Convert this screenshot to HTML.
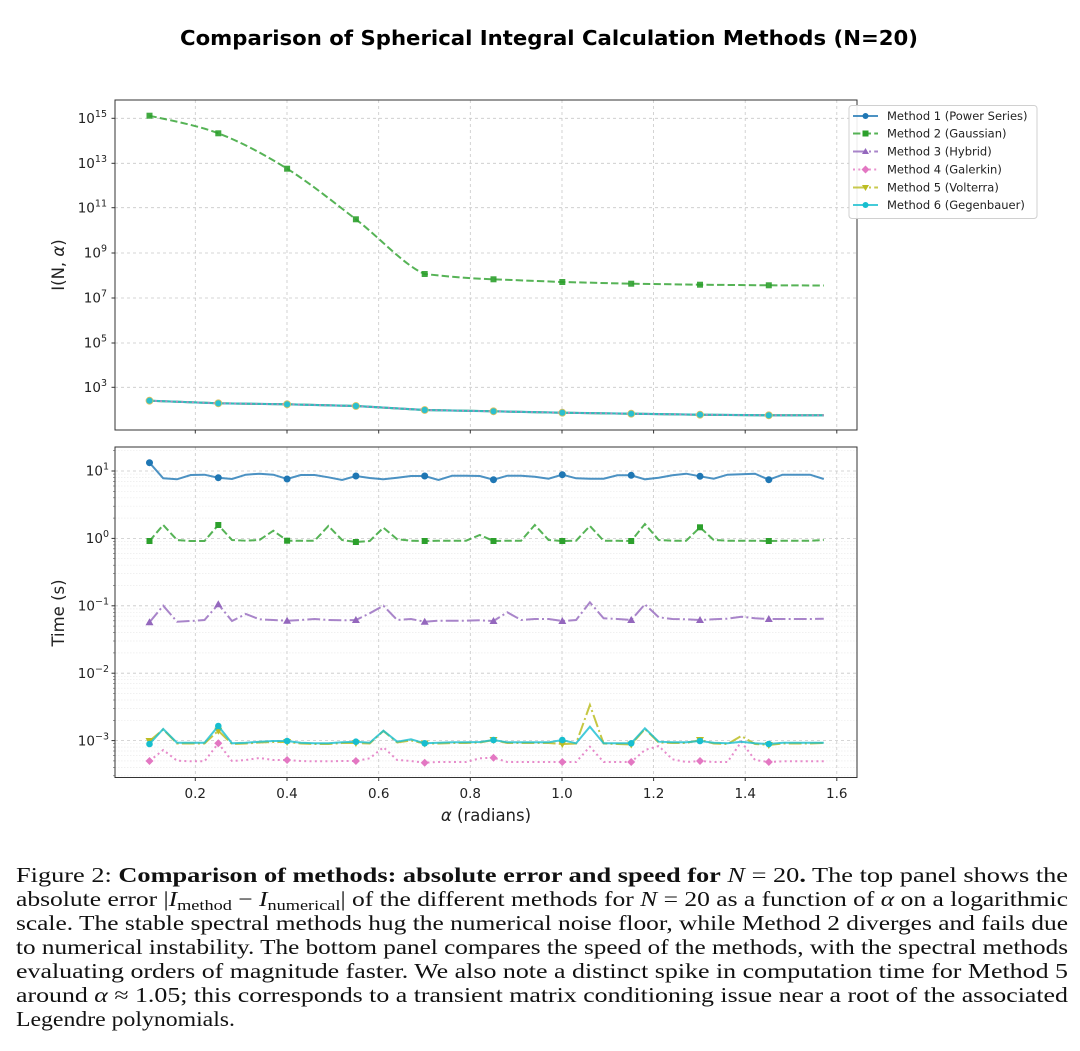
<!DOCTYPE html>
<html><head><meta charset="utf-8"><style>
html,body{margin:0;padding:0;background:#fff;}
body{width:1080px;height:1051px;position:relative;overflow:hidden;}
svg{position:absolute;left:0;}
</style></head><body>
<svg style="top:0" width="1080" height="850" viewBox="0 0 1080 850" xmlns="http://www.w3.org/2000/svg" font-family="'DejaVu Sans','Liberation Sans',sans-serif">
<text x="549" y="45" text-anchor="middle" font-weight="bold" font-size="20" textLength="738" lengthAdjust="spacingAndGlyphs" fill="#000">Comparison of Spherical Integral Calculation Methods (N=20)</text>

<!-- TOP PANEL -->
<rect x="115" y="100" width="742" height="330" fill="#fff"/>
<g stroke="#c8c8c8" stroke-width="0.8" stroke-dasharray="3,3" fill="none">
<line x1="115" x2="857" y1="118.3" y2="118.3"/><line x1="115" x2="857" y1="163.3" y2="163.3"/>
<line x1="115" x2="857" y1="207.7" y2="207.7"/><line x1="115" x2="857" y1="253" y2="253"/>
<line x1="115" x2="857" y1="298" y2="298"/><line x1="115" x2="857" y1="343" y2="343"/>
<line x1="115" x2="857" y1="387.3" y2="387.3"/>
<line y1="100" y2="430" x1="195.3" x2="195.3"/><line y1="100" y2="430" x1="287" x2="287"/>
<line y1="100" y2="430" x1="378.7" x2="378.7"/><line y1="100" y2="430" x1="470.3" x2="470.3"/>
<line y1="100" y2="430" x1="562" x2="562"/><line y1="100" y2="430" x1="653.6" x2="653.6"/>
<line y1="100" y2="430" x1="745.2" x2="745.2"/><line y1="100" y2="430" x1="836.8" x2="836.8"/>
</g>
<path d="M149.5,115.7 C161,118.6 195.4,124.5 218.3,133.3 C241.2,142.1 264.2,154.4 287.1,168.7 C310,183 333,201.8 355.9,219.3 C378.8,236.9 405,266 424.7,274 C447.6,276.5 470.6,278.6 493.5,279.3 L562.3,282 L631.2,283.7 L700,284.7 L768.8,285.3 L823.8,285.5" fill="none" stroke="#2ca02c" stroke-opacity="0.8" stroke-width="2" stroke-dasharray="7.4,3.2"/>
<g fill="#2ca02c" fill-opacity="0.9">
<rect x="146.5" y="112.7" width="6" height="6"/><rect x="215.3" y="130.3" width="6" height="6"/><rect x="284.1" y="165.7" width="6" height="6"/><rect x="352.9" y="216.3" width="6" height="6"/><rect x="421.7" y="271" width="6" height="6"/><rect x="490.5" y="276.3" width="6" height="6"/><rect x="559.3" y="279" width="6" height="6"/><rect x="628.2" y="280.7" width="6" height="6"/><rect x="697" y="281.7" width="6" height="6"/><rect x="765.8" y="282.3" width="6" height="6"/>
</g>
<polyline points="149.5,400.7 218.3,403.3 287.1,404.3 355.9,406 424.7,410 493.5,411.3 562.3,412.7 631.2,413.7 700,414.7 768.8,415.3 823.8,415.3" fill="none" stroke="#1f77b4" stroke-width="2" stroke-opacity="0.8"/>
<polyline points="149.5,400.7 218.3,403.3 287.1,404.3 355.9,406 424.7,410 493.5,411.3 562.3,412.7 631.2,413.7 700,414.7 768.8,415.3 823.8,415.3" fill="none" stroke="#bcbd22" stroke-width="2" stroke-opacity="0.8"/>
<polyline points="149.5,400.7 218.3,403.3 287.1,404.3 355.9,406 424.7,410 493.5,411.3 562.3,412.7 631.2,413.7 700,414.7 768.8,415.3 823.8,415.3" fill="none" stroke="#17becf" stroke-width="2.2" stroke-opacity="0.85"/>
<polyline points="149.5,400.7 218.3,403.3 287.1,404.3 355.9,406 424.7,410 493.5,411.3 562.3,412.7 631.2,413.7 700,414.7 768.8,415.3 823.8,415.3" fill="none" stroke="#e377c2" stroke-width="1.6" stroke-dasharray="2,3.3" stroke-opacity="0.8"/>
<g fill="#2bbfcf" stroke="#d9c060" stroke-width="0.8">
<circle cx="149.5" cy="400.7" r="3.5"/><circle cx="218.3" cy="403.3" r="3.5"/><circle cx="287.1" cy="404.3" r="3.5"/><circle cx="355.9" cy="406" r="3.5"/><circle cx="424.7" cy="410" r="3.5"/><circle cx="493.5" cy="411.3" r="3.5"/><circle cx="562.3" cy="412.7" r="3.5"/><circle cx="631.2" cy="413.7" r="3.5"/><circle cx="700" cy="414.7" r="3.5"/><circle cx="768.8" cy="415.3" r="3.5"/>
</g>
<rect x="115" y="100" width="742" height="330" fill="none" stroke="#333" stroke-width="1"/>
<g stroke="#333" stroke-width="1">
<line x1="111.5" x2="115" y1="118.3" y2="118.3"/><line x1="111.5" x2="115" y1="163.3" y2="163.3"/><line x1="111.5" x2="115" y1="207.7" y2="207.7"/><line x1="111.5" x2="115" y1="253" y2="253"/><line x1="111.5" x2="115" y1="298" y2="298"/><line x1="111.5" x2="115" y1="343" y2="343"/><line x1="111.5" x2="115" y1="387.3" y2="387.3"/>
<line y1="430" y2="433.5" x1="195.3" x2="195.3"/><line y1="430" y2="433.5" x1="287" x2="287"/><line y1="430" y2="433.5" x1="378.7" x2="378.7"/><line y1="430" y2="433.5" x1="470.3" x2="470.3"/><line y1="430" y2="433.5" x1="562" x2="562"/><line y1="430" y2="433.5" x1="653.6" x2="653.6"/><line y1="430" y2="433.5" x1="745.2" x2="745.2"/><line y1="430" y2="433.5" x1="836.8" x2="836.8"/>
</g>
<g font-size="13.5" fill="#222" text-anchor="end">
<text x="107" y="123">10<tspan dy="-6" font-size="9.5">15</tspan></text>
<text x="107" y="168">10<tspan dy="-6" font-size="9.5">13</tspan></text>
<text x="107" y="212.4">10<tspan dy="-6" font-size="9.5">11</tspan></text>
<text x="107" y="257.7">10<tspan dy="-6" font-size="9.5">9</tspan></text>
<text x="107" y="302.7">10<tspan dy="-6" font-size="9.5">7</tspan></text>
<text x="107" y="347.7">10<tspan dy="-6" font-size="9.5">5</tspan></text>
<text x="107" y="392">10<tspan dy="-6" font-size="9.5">3</tspan></text>
</g>
<text transform="translate(64,265) rotate(-90)" text-anchor="middle" font-size="16.5" fill="#222">I(N, <tspan font-style="italic">α</tspan>)</text>

<!-- LEGEND -->
<rect x="849" y="105.5" width="188" height="113" rx="3" fill="#fff" fill-opacity="0.9" stroke="#d0d0d0" stroke-width="1"/>
<g stroke-width="2">
<line x1="853" x2="878" y1="116" y2="116" stroke="#1f77b4" stroke-opacity="0.8"/>
<line x1="853" x2="878" y1="133.5" y2="133.5" stroke="#2ca02c" stroke-opacity="0.8" stroke-dasharray="7.4,3.2"/>
<line x1="853" x2="878" y1="151.5" y2="151.5" stroke="#9467bd" stroke-opacity="0.8" stroke-dasharray="12.8,3.2,2,3.2"/>
<line x1="853" x2="878" y1="169.5" y2="169.5" stroke="#e377c2" stroke-opacity="0.8" stroke-dasharray="2,3.3"/>
<line x1="853" x2="878" y1="187.5" y2="187.5" stroke="#bcbd22" stroke-opacity="0.8" stroke-dasharray="12.8,3.2,2,3.2"/>
<line x1="853" x2="878" y1="205" y2="205" stroke="#17becf" stroke-opacity="0.8"/>
</g>
<circle cx="865.5" cy="116" r="3" fill="#1f77b4"/>
<rect x="862.5" y="130.5" width="6" height="6" fill="#2ca02c"/>
<polygon points="865.5,148 869,154 862,154" fill="#9467bd"/>
<polygon points="865.5,165.5 869.5,169.5 865.5,173.5 861.5,169.5" fill="#e377c2"/>
<polygon points="862,185 869,185 865.5,191" fill="#bcbd22"/>
<circle cx="865.5" cy="205" r="3" fill="#17becf"/>
<g font-size="11.5" fill="#222">
<text x="887" y="120">Method 1 (Power Series)</text>
<text x="887" y="137.5">Method 2 (Gaussian)</text>
<text x="887" y="155.5">Method 3 (Hybrid)</text>
<text x="887" y="173.5">Method 4 (Galerkin)</text>
<text x="887" y="191.5">Method 5 (Volterra)</text>
<text x="887" y="209">Method 6 (Gegenbauer)</text>
</g>

<!-- BOTTOM PANEL -->
<rect x="115" y="447" width="742" height="330.5" fill="#fff"/>
<g stroke="#ececec" stroke-width="0.7" stroke-dasharray="1.5,1.5">
<line x1="115" x2="857" y1="450.7" y2="450.7"/>
<line x1="115" x2="857" y1="518.1" y2="518.1"/><line x1="115" x2="857" y1="506.2" y2="506.2"/><line x1="115" x2="857" y1="497.8" y2="497.8"/><line x1="115" x2="857" y1="491.3" y2="491.3"/><line x1="115" x2="857" y1="486" y2="486"/><line x1="115" x2="857" y1="481.4" y2="481.4"/><line x1="115" x2="857" y1="477.5" y2="477.5"/><line x1="115" x2="857" y1="474.1" y2="474.1"/>
<line x1="115" x2="857" y1="585.5" y2="585.5"/><line x1="115" x2="857" y1="573.6" y2="573.6"/><line x1="115" x2="857" y1="565.2" y2="565.2"/><line x1="115" x2="857" y1="558.7" y2="558.7"/><line x1="115" x2="857" y1="553.4" y2="553.4"/><line x1="115" x2="857" y1="548.8" y2="548.8"/><line x1="115" x2="857" y1="544.9" y2="544.9"/><line x1="115" x2="857" y1="541.5" y2="541.5"/>
<line x1="115" x2="857" y1="652.9" y2="652.9"/><line x1="115" x2="857" y1="641" y2="641"/><line x1="115" x2="857" y1="632.6" y2="632.6"/><line x1="115" x2="857" y1="626.1" y2="626.1"/><line x1="115" x2="857" y1="620.8" y2="620.8"/><line x1="115" x2="857" y1="616.2" y2="616.2"/><line x1="115" x2="857" y1="612.3" y2="612.3"/><line x1="115" x2="857" y1="608.9" y2="608.9"/>
<line x1="115" x2="857" y1="720.3" y2="720.3"/><line x1="115" x2="857" y1="708.4" y2="708.4"/><line x1="115" x2="857" y1="700" y2="700"/><line x1="115" x2="857" y1="693.5" y2="693.5"/><line x1="115" x2="857" y1="688.2" y2="688.2"/><line x1="115" x2="857" y1="683.6" y2="683.6"/><line x1="115" x2="857" y1="679.7" y2="679.7"/><line x1="115" x2="857" y1="676.3" y2="676.3"/>
<line x1="115" x2="857" y1="775.8" y2="775.8"/><line x1="115" x2="857" y1="767.4" y2="767.4"/><line x1="115" x2="857" y1="760.9" y2="760.9"/><line x1="115" x2="857" y1="755.6" y2="755.6"/><line x1="115" x2="857" y1="751" y2="751"/><line x1="115" x2="857" y1="747.1" y2="747.1"/><line x1="115" x2="857" y1="743.7" y2="743.7"/>
</g>
<g stroke="#c8c8c8" stroke-width="0.8" stroke-dasharray="3,3" fill="none">
<line x1="115" x2="857" y1="471" y2="471"/><line x1="115" x2="857" y1="538.4" y2="538.4"/><line x1="115" x2="857" y1="605.8" y2="605.8"/><line x1="115" x2="857" y1="673.2" y2="673.2"/><line x1="115" x2="857" y1="740.6" y2="740.6"/>
<line y1="447" y2="777.5" x1="195.3" x2="195.3"/><line y1="447" y2="777.5" x1="287" x2="287"/>
<line y1="447" y2="777.5" x1="378.7" x2="378.7"/><line y1="447" y2="777.5" x1="470.3" x2="470.3"/>
<line y1="447" y2="777.5" x1="562" x2="562"/><line y1="447" y2="777.5" x1="653.6" x2="653.6"/>
<line y1="447" y2="777.5" x1="745.2" x2="745.2"/><line y1="447" y2="777.5" x1="836.8" x2="836.8"/>
</g>

<polyline fill="none" stroke="#1f77b4" stroke-opacity="0.8" stroke-width="2" points="149.5,462.7 163.2,478.3 177,479.3 190.7,475 204.5,474.7 218.3,477.7 232,479 245.8,474.7 259.5,473.7 273.3,474.7 287.1,479 300.8,475 314.6,475 328.4,477.3 342.1,480 355.9,476 369.7,478 383.4,479.3 397.2,477.7 411,476 424.7,476 438.5,480 452.2,475.7 466,475.7 479.8,476 493.5,479.7 507.3,475.7 521.1,475.7 534.8,476.7 548.6,478.7 562.3,474.7 576.1,478.3 589.9,478.7 603.6,478.7 617.4,475.3 631.2,475.3 644.9,479.3 658.7,477.7 672.4,475.3 686.2,473.7 700,476.3 713.7,478.7 727.5,474.7 741.3,474.3 755,473.7 768.8,479.7 782.6,474.7 796.3,474.7 810.1,474.7 823.8,479"/>
<g fill="#1f77b4"><circle cx="149.5" cy="462.7" r="3.5"/><circle cx="218.3" cy="477.7" r="3.5"/><circle cx="287.1" cy="479" r="3.5"/><circle cx="355.9" cy="476" r="3.5"/><circle cx="424.7" cy="476" r="3.5"/><circle cx="493.5" cy="479.7" r="3.5"/><circle cx="562.3" cy="474.7" r="3.5"/><circle cx="631.2" cy="475.3" r="3.5"/><circle cx="700" cy="476.3" r="3.5"/><circle cx="768.8" cy="479.7" r="3.5"/></g>

<polyline fill="none" stroke="#2ca02c" stroke-opacity="0.8" stroke-width="2" stroke-dasharray="7.4,3.2" points="149.5,541 163.2,525 177,540 190.7,541 204.5,541 218.3,525 232,540 245.8,540.7 259.5,540 273.3,530.7 287.1,540.7 300.8,540.7 314.6,540.7 328.4,526 342.1,540 355.9,542 369.7,541 383.4,527.7 397.2,539.3 411,540.7 424.7,541 438.5,540.7 452.2,540.7 466,540.7 479.8,535 493.5,541 507.3,540.7 521.1,540.7 534.8,525 548.6,540 562.3,541 576.1,540.7 589.9,526 603.6,540.7 617.4,540.7 631.2,541 644.9,524 658.7,540 672.4,540.7 686.2,540.7 700,527.3 713.7,540 727.5,540.7 741.3,540.7 755,540.7 768.8,541 782.6,540.7 796.3,540.7 810.1,540.7 823.8,540"/>
<g fill="#2ca02c"><rect x="146.5" y="538" width="6" height="6"/><rect x="215.3" y="522" width="6" height="6"/><rect x="284.1" y="537.7" width="6" height="6"/><rect x="352.9" y="539" width="6" height="6"/><rect x="421.7" y="538" width="6" height="6"/><rect x="490.5" y="538" width="6" height="6"/><rect x="559.3" y="538" width="6" height="6"/><rect x="628.2" y="538" width="6" height="6"/><rect x="697" y="524.3" width="6" height="6"/><rect x="765.8" y="538" width="6" height="6"/></g>

<polyline fill="none" stroke="#9467bd" stroke-opacity="0.8" stroke-width="2" stroke-dasharray="12.8,3.2,2,3.2" points="149.5,622.3 163.2,605.7 177,621.7 190.7,621 204.5,620 218.3,604.3 232,621 245.8,614 259.5,619.3 273.3,620 287.1,620.7 300.8,620 314.6,619 328.4,620 342.1,620.3 355.9,620 369.7,613.3 383.4,605.7 397.2,620 411,619 424.7,621.7 438.5,620.7 452.2,620.7 466,620.7 479.8,620.3 493.5,621 507.3,612.3 521.1,620 534.8,619 548.6,619 562.3,621 576.1,620 589.9,602.3 603.6,618.3 617.4,619 631.2,620 644.9,604.3 658.7,617.3 672.4,619 686.2,619.3 700,620 713.7,619.3 727.5,618.7 741.3,616.7 755,618.3 768.8,619 782.6,619 796.3,619 810.1,619 823.8,618.7"/>
<g fill="#9467bd"><polygon points="149.5,618.3 153.5,625.3 145.5,625.3"/><polygon points="218.3,600.3 222.3,607.3 214.3,607.3"/><polygon points="287.1,616.7 291.1,623.7 283.1,623.7"/><polygon points="355.9,616 359.9,623 351.9,623"/><polygon points="424.7,617.7 428.7,624.7 420.7,624.7"/><polygon points="493.5,617 497.5,624 489.5,624"/><polygon points="562.3,617 566.3,624 558.3,624"/><polygon points="631.2,616 635.2,623 627.2,623"/><polygon points="700,616 704,623 696,623"/><polygon points="768.8,615 772.8,622 764.8,622"/></g>

<polyline fill="none" stroke="#e377c2" stroke-opacity="0.85" stroke-width="2" stroke-dasharray="2,3.3" points="149.5,761 163.2,750 177,760.7 190.7,761.3 204.5,761.3 218.3,743.3 232,761 245.8,760 259.5,758 273.3,760 287.1,760 300.8,761 314.6,761.3 328.4,761.3 342.1,761 355.9,761 369.7,758.3 383.4,747.3 397.2,760 411,761 424.7,762.7 438.5,762 452.2,762 466,762 479.8,758.3 493.5,757.7 507.3,762 521.1,762 534.8,762 548.6,762 562.3,762 576.1,762 589.9,746.7 603.6,762 617.4,762 631.2,762 644.9,750 658.7,746 672.4,759.3 686.2,762 700,761 713.7,762 727.5,762 741.3,741.7 755,760 768.8,762 782.6,761.3 796.3,761.3 810.1,761.3 823.8,761.3"/>
<g fill="#e377c2"><polygon points="149.5,757 153.5,761 149.5,765 145.5,761"/><polygon points="218.3,739.3 222.3,743.3 218.3,747.3 214.3,743.3"/><polygon points="287.1,756 291.1,760 287.1,764 283.1,760"/><polygon points="355.9,757 359.9,761 355.9,765 351.9,761"/><polygon points="424.7,758.7 428.7,762.7 424.7,766.7 420.7,762.7"/><polygon points="493.5,753.7 497.5,757.7 493.5,761.7 489.5,757.7"/><polygon points="562.3,758 566.3,762 562.3,766 558.3,762"/><polygon points="631.2,758 635.2,762 631.2,766 627.2,762"/><polygon points="700,757 704,761 700,765 696,761"/><polygon points="768.8,758 772.8,762 768.8,766 764.8,762"/></g>

<polyline fill="none" stroke="#bcbd22" stroke-opacity="0.85" stroke-width="2" stroke-dasharray="12.8,3.2,2,3.2" points="149.5,741 163.2,729.5 177,743.5 190.7,743.5 204.5,743.5 218.3,730.7 232,744 245.8,743.5 259.5,742.5 273.3,742 287.1,742 300.8,743.5 314.6,744 328.4,744 342.1,743 355.9,743 369.7,743.5 383.4,731 397.2,742.5 411,740.5 424.7,743.5 438.5,743.5 452.2,743 466,743 479.8,742.5 493.5,740 507.3,743 521.1,743 534.8,743 548.6,743 562.3,744 576.1,743.5 589.9,705 603.6,743.5 617.4,744 631.2,744.5 644.9,729 658.7,742.5 672.4,743 686.2,743 700,740 713.7,743.5 727.5,744 741.3,736 755,744 768.8,745 782.6,743.5 796.3,743.5 810.1,743.5 823.8,743"/>
<g fill="#bcbd22"><polygon points="145.5,738 153.5,738 149.5,745"/><polygon points="214.3,727.7 222.3,727.7 218.3,734.7"/><polygon points="283.1,739 291.1,739 287.1,746"/><polygon points="351.9,740 359.9,740 355.9,747"/><polygon points="420.7,740.5 428.7,740.5 424.7,747.5"/><polygon points="489.5,737 497.5,737 493.5,744"/><polygon points="558.3,741 566.3,741 562.3,748"/><polygon points="627.2,741.5 635.2,741.5 631.2,748.5"/><polygon points="696,737 704,737 700,744"/><polygon points="764.8,742 772.8,742 768.8,749"/></g>

<polyline fill="none" stroke="#17becf" stroke-opacity="0.8" stroke-width="2" points="149.5,744 163.2,729 177,742.7 190.7,742.7 204.5,742.7 218.3,726 232,743.3 245.8,742.7 259.5,741.7 273.3,741 287.1,741 300.8,742.7 314.6,743.3 328.4,743.3 342.1,742.3 355.9,741.7 369.7,742.7 383.4,730.7 397.2,741.7 411,739.3 424.7,743.3 438.5,742.7 452.2,742.3 466,742.3 479.8,742 493.5,740 507.3,742.3 521.1,742.3 534.8,742.3 548.6,742.3 562.3,740 576.1,743.3 589.9,726.7 603.6,743.3 617.4,743.3 631.2,743.3 644.9,728.3 658.7,741.7 672.4,742.3 686.2,742.3 700,741 713.7,742.7 727.5,743.3 741.3,741.7 755,743.3 768.8,744 782.6,742.7 796.3,742.7 810.1,742.7 823.8,742.7"/>
<g fill="#17becf"><circle cx="149.5" cy="744" r="3.3"/><circle cx="218.3" cy="726" r="3.3"/><circle cx="287.1" cy="741" r="3.3"/><circle cx="355.9" cy="741.7" r="3.3"/><circle cx="424.7" cy="743.3" r="3.3"/><circle cx="493.5" cy="740" r="3.3"/><circle cx="562.3" cy="740" r="3.3"/><circle cx="631.2" cy="743.3" r="3.3"/><circle cx="700" cy="741" r="3.3"/><circle cx="768.8" cy="744" r="3.3"/></g>

<rect x="115" y="447" width="742" height="330.5" fill="none" stroke="#333" stroke-width="1"/>
<g stroke="#333" stroke-width="1">
<line x1="111.5" x2="115" y1="471" y2="471"/><line x1="111.5" x2="115" y1="538.4" y2="538.4"/><line x1="111.5" x2="115" y1="605.8" y2="605.8"/><line x1="111.5" x2="115" y1="673.2" y2="673.2"/><line x1="111.5" x2="115" y1="740.6" y2="740.6"/>
<line y1="777.5" y2="781" x1="195.3" x2="195.3"/><line y1="777.5" y2="781" x1="287" x2="287"/><line y1="777.5" y2="781" x1="378.7" x2="378.7"/><line y1="777.5" y2="781" x1="470.3" x2="470.3"/><line y1="777.5" y2="781" x1="562" x2="562"/><line y1="777.5" y2="781" x1="653.6" x2="653.6"/><line y1="777.5" y2="781" x1="745.2" x2="745.2"/><line y1="777.5" y2="781" x1="836.8" x2="836.8"/>
</g>
<g stroke="#555" stroke-width="0.6">
<line x1="113" x2="115" y1="450.7" y2="450.7"/>
<line x1="113" x2="115" y1="518.1" y2="518.1"/><line x1="113" x2="115" y1="506.2" y2="506.2"/><line x1="113" x2="115" y1="497.8" y2="497.8"/><line x1="113" x2="115" y1="491.3" y2="491.3"/><line x1="113" x2="115" y1="486" y2="486"/><line x1="113" x2="115" y1="481.4" y2="481.4"/><line x1="113" x2="115" y1="477.5" y2="477.5"/><line x1="113" x2="115" y1="474.1" y2="474.1"/>
<line x1="113" x2="115" y1="585.5" y2="585.5"/><line x1="113" x2="115" y1="573.6" y2="573.6"/><line x1="113" x2="115" y1="565.2" y2="565.2"/><line x1="113" x2="115" y1="558.7" y2="558.7"/><line x1="113" x2="115" y1="553.4" y2="553.4"/><line x1="113" x2="115" y1="548.8" y2="548.8"/><line x1="113" x2="115" y1="544.9" y2="544.9"/><line x1="113" x2="115" y1="541.5" y2="541.5"/>
<line x1="113" x2="115" y1="652.9" y2="652.9"/><line x1="113" x2="115" y1="641" y2="641"/><line x1="113" x2="115" y1="632.6" y2="632.6"/><line x1="113" x2="115" y1="626.1" y2="626.1"/><line x1="113" x2="115" y1="620.8" y2="620.8"/><line x1="113" x2="115" y1="616.2" y2="616.2"/><line x1="113" x2="115" y1="612.3" y2="612.3"/><line x1="113" x2="115" y1="608.9" y2="608.9"/>
<line x1="113" x2="115" y1="720.3" y2="720.3"/><line x1="113" x2="115" y1="708.4" y2="708.4"/><line x1="113" x2="115" y1="700" y2="700"/><line x1="113" x2="115" y1="693.5" y2="693.5"/><line x1="113" x2="115" y1="688.2" y2="688.2"/><line x1="113" x2="115" y1="683.6" y2="683.6"/><line x1="113" x2="115" y1="679.7" y2="679.7"/><line x1="113" x2="115" y1="676.3" y2="676.3"/>
<line x1="113" x2="115" y1="775.8" y2="775.8"/><line x1="113" x2="115" y1="767.4" y2="767.4"/><line x1="113" x2="115" y1="760.9" y2="760.9"/><line x1="113" x2="115" y1="755.6" y2="755.6"/><line x1="113" x2="115" y1="751" y2="751"/><line x1="113" x2="115" y1="747.1" y2="747.1"/><line x1="113" x2="115" y1="743.7" y2="743.7"/>
</g>
<g font-size="13.5" fill="#222" text-anchor="end">
<text x="109" y="475.7">10<tspan dy="-6" font-size="9.5">1</tspan></text>
<text x="109" y="543.1">10<tspan dy="-6" font-size="9.5">0</tspan></text>
<text x="109" y="610.5">10<tspan dy="-6" font-size="9.5">−1</tspan></text>
<text x="109" y="677.9">10<tspan dy="-6" font-size="9.5">−2</tspan></text>
<text x="109" y="745.3">10<tspan dy="-6" font-size="9.5">−3</tspan></text>
</g>
<g font-size="13.5" fill="#222" text-anchor="middle">
<text x="195.3" y="798">0.2</text><text x="287" y="798">0.4</text><text x="378.7" y="798">0.6</text><text x="470.3" y="798">0.8</text><text x="562" y="798">1.0</text><text x="653.6" y="798">1.2</text><text x="745.2" y="798">1.4</text><text x="836.8" y="798">1.6</text>
</g>
<text x="486" y="821" text-anchor="middle" font-size="16.5" fill="#222"><tspan font-style="italic">α</tspan> (radians)</text>
<text transform="translate(64,613) rotate(-90)" text-anchor="middle" font-size="16.5" fill="#222">Time (s)</text>
</svg>

<svg style="top:850px" width="1080" height="201" viewBox="0 850 1080 201" xmlns="http://www.w3.org/2000/svg" font-family="'Liberation Serif',serif" font-size="21" fill="#111">
<text x="16" y="882" textLength="1052" lengthAdjust="spacingAndGlyphs">Figure 2: <tspan font-weight="bold">Comparison of methods: absolute error and speed for</tspan> <tspan font-style="italic">N</tspan> = 20<tspan font-weight="bold">.</tspan> The top panel shows the</text>
<text x="16" y="906" textLength="1052" lengthAdjust="spacingAndGlyphs">absolute error |<tspan font-style="italic">I</tspan><tspan font-size="15" dy="4">method</tspan><tspan dy="-4"> − </tspan><tspan font-style="italic">I</tspan><tspan font-size="15" dy="4">numerical</tspan><tspan dy="-4">| of the different methods for </tspan><tspan font-style="italic">N</tspan> = 20 as a function of <tspan font-style="italic">α</tspan> on a logarithmic</text>
<text x="16" y="930" textLength="1052" lengthAdjust="spacingAndGlyphs">scale.  The stable spectral methods hug the numerical noise floor, while Method 2 diverges and fails due</text>
<text x="16" y="954" textLength="1052" lengthAdjust="spacingAndGlyphs">to numerical instability. The bottom panel compares the speed of the methods, with the spectral methods</text>
<text x="16" y="978" textLength="1052" lengthAdjust="spacingAndGlyphs">evaluating orders of magnitude faster.  We also note a distinct spike in computation time for Method 5</text>
<text x="16" y="1002" textLength="1052" lengthAdjust="spacingAndGlyphs">around <tspan font-style="italic">α</tspan> ≈ 1.05; this corresponds to a transient matrix conditioning issue near a root of the associated</text>
<text x="16" y="1026" textLength="219" lengthAdjust="spacingAndGlyphs">Legendre polynomials.</text>
</svg>
</body></html>
